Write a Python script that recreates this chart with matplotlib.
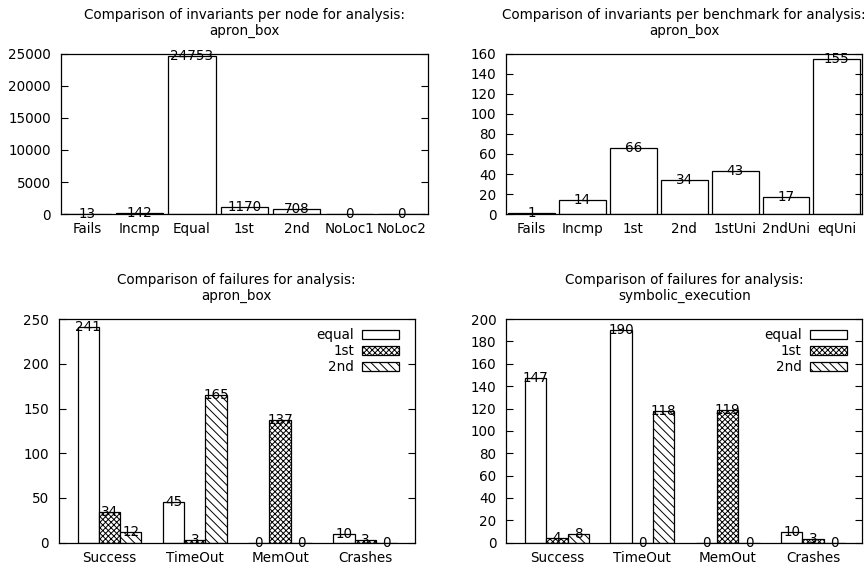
import matplotlib
matplotlib.use("Agg")
import matplotlib.pyplot as plt
import numpy as np

# ---- data ----
node_cats = ["Fails", "Incmp", "Equal", "1st", "2nd", "NoLoc1", "NoLoc2"]
node_vals = [13, 142, 24753, 1170, 708, 0, 0]

bench_cats = ["Fails", "Incmp", "1st", "2nd", "1stUni", "2ndUni", "eqUni"]
bench_vals = [1, 14, 66, 34, 43, 17, 155]

fail_cats = ["Success", "TimeOut", "MemOut", "Crashes"]
series_names = ["equal", "1st", "2nd"]
apron_equal = [241, 45, 0, 10]
apron_1st = [34, 3, 137, 3]
apron_2nd = [12, 165, 0, 0]
sym_equal = [147, 190, 0, 10]
sym_1st = [4, 0, 119, 3]
sym_2nd = [8, 118, 0, 0]

plt.rcParams['font.family'] = ['DejaVu Sans']
plt.rcParams['hatch.linewidth'] = 0.7
FS = 9.75

fig = plt.figure(figsize=(8.65, 5.69), dpi=100)

def style(ax):
    for s in ax.spines.values():
        s.set_linewidth(0.9)
        s.set_color('black')
    ax.tick_params(axis='y', direction='in', length=5, width=0.8,
                   left=True, right=True, labelsize=FS, pad=7)
    ax.tick_params(axis='x', length=0, labelsize=FS, pad=6)

def simple(ax, cats, vals, ymax, step, title, width):
    x = np.arange(len(cats))
    ax.bar(x, vals, width=width, color='white', edgecolor='black', linewidth=0.9)
    for xi, v in zip(x, vals):
        ax.text(xi, v, str(v), ha='center', va='center', fontsize=FS)
    ax.set_xlim(-0.5, len(cats) - 0.5)
    ax.set_ylim(0, ymax)
    ax.set_yticks(np.arange(0, ymax + 1, step))
    ax.set_xticks(x)
    ax.set_xticklabels(cats)
    ax.set_title(title, fontsize=FS, pad=14, linespacing=1.15)
    style(ax)

def grouped(ax, eq, first, second, ymax, step, title):
    x = np.arange(len(fail_cats))
    w = 0.25
    hatches = [None, 'xxxxxx', '\\\\\\\\']
    data = [eq, first, second]
    for i, (vals, h, name) in enumerate(zip(data, hatches, series_names)):
        pos = x + (i - 1) * w
        ax.bar(pos, vals, width=w, color='white', edgecolor='black',
               linewidth=0.9, hatch=h, label=name)
        for xi, v in zip(pos, vals):
            ax.text(xi, v, str(v), ha='center', va='center', fontsize=FS)
    ax.set_xlim(-0.595, 3.578)
    ax.set_ylim(0, ymax)
    ax.set_yticks(np.arange(0, ymax + 1, step))
    ax.set_xticks(x)
    ax.set_xticklabels(fail_cats)
    ax.set_title(title, fontsize=FS, pad=14, linespacing=1.15)
    style(ax)
    ax.legend(loc='upper right', bbox_to_anchor=(0.957, 0.958), frameon=False,
              markerfirst=False, fontsize=FS, handlelength=2.75, handleheight=0.6,
              handletextpad=0.6, labelspacing=0.14, borderpad=0, borderaxespad=0)

ax1 = fig.add_axes([0.0702, 0.6239, 0.4246, 0.2812])
simple(ax1, node_cats, node_vals, 25000, 5000,
       "Comparison of invariants per node for analysis:\napron_box", 0.9)

ax2 = fig.add_axes([0.5853, 0.6239, 0.4116, 0.2812])
simple(ax2, bench_cats, bench_vals, 160, 20,
       "Comparison of invariants per benchmark for analysis:\napron_box", 0.92)

ax3 = fig.add_axes([0.0679, 0.0462, 0.4116, 0.3931])
grouped(ax3, apron_equal, apron_1st, apron_2nd, 250, 50,
        "Comparison of failures for analysis:\napron_box")

ax4 = fig.add_axes([0.5853, 0.0462, 0.4116, 0.3931])
grouped(ax4, sym_equal, sym_1st, sym_2nd, 200, 20,
        "Comparison of failures for analysis:\nsymbolic_execution")

fig.savefig("out.png", dpi=100)
